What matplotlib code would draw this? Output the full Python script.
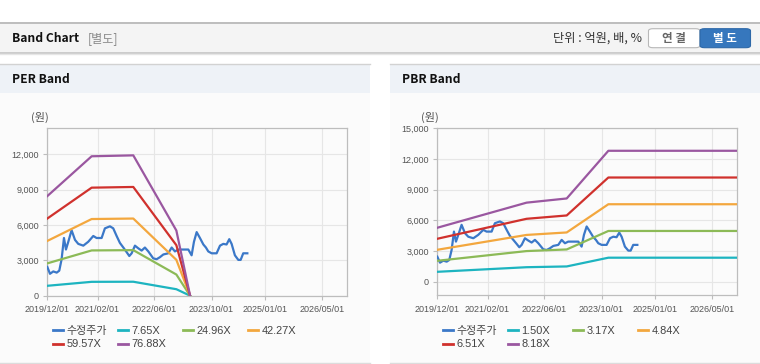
import numpy as np
import pandas as pd
import matplotlib
matplotlib.use("Agg")
import matplotlib.pyplot as plt
from matplotlib.patches import Rectangle, FancyBboxPatch
from matplotlib.lines import Line2D
from matplotlib.ticker import FuncFormatter

plt.rcParams['font.family'] = ['Liberation Sans', 'Noto Sans CJK KR', 'DejaVu Sans']
KR = ['Noto Sans CJK KR', 'DejaVu Sans']

# ---------------- data ----------------
price_dates = ["2019-12-01", "2019-12-24", "2020-01-21", "2020-02-19", "2020-03-12", "2020-04-01",
               "2020-04-21", "2020-05-08", "2020-05-28", "2020-06-25", "2020-07-24", "2020-08-21",
               "2020-10-03", "2020-11-14", "2020-12-27", "2021-01-24", "2021-03-08", "2021-04-05",
               "2021-05-18", "2021-06-15", "2021-07-14", "2021-08-11", "2021-09-09", "2021-10-07",
               "2021-10-30", "2021-11-19", "2021-12-17", "2022-01-15", "2022-02-12", "2022-03-12",
               "2022-04-10", "2022-05-22", "2022-06-20", "2022-07-18", "2022-08-16", "2022-09-27",
               "2022-10-26", "2022-11-23", "2022-12-21", "2023-02-02", "2023-03-17", "2023-04-14",
               "2023-05-04", "2023-05-27", "2023-06-24", "2023-07-23", "2023-08-14", "2023-09-03",
               "2023-10-02", "2023-11-13", "2023-12-12", "2024-01-09", "2024-02-06", "2024-02-29",
               "2024-03-20", "2024-04-17", "2024-05-16", "2024-06-05", "2024-06-27", "2024-08-01"]
price_values = [2450, 1860, 2060, 1960, 2125, 3100, 4900, 3920, 4580, 5560, 4740, 4400,
                4250, 4580, 5070, 4900, 4900, 5720, 5890, 5720, 5070, 4480, 4090, 3700,
                3370, 3600, 4250, 4020, 3830, 4090, 3760, 3170, 3100, 3270, 3500, 3600,
                4090, 3760, 3920, 3920, 3920, 3430, 4580, 5400, 4900, 4350, 4090, 3760,
                3600, 3600, 4250, 4400, 4350, 4800, 4400, 3430, 3040, 3040, 3600, 3600]

# PER band: EPS base at key dates, multiples
eps_dates = ["2019-12-01", "2020-12-13", "2021-12-03", "2022-12-05", "2023-04-01"]
eps_values = [110, 154, 155, 72, 0]
per_multiples = [7.65, 24.96, 42.27, 59.57, 76.88]
per_labels = ["수정주가", "7.65X", "24.96X", "42.27X", "59.57X", "76.88X"]

# PBR band: BPS base at key dates, multiples
bps_dates = ["2019-12-01", "2021-12-31", "2022-12-08", "2023-11-28", "2026-12-01"]
bps_values = [645, 945, 995, 1565, 1565]
pbr_multiples = [1.50, 3.17, 4.84, 6.51, 8.18]
pbr_labels = ["수정주가", "1.50X", "3.17X", "4.84X", "6.51X", "8.18X"]

xtick_dates = ["2019-12-01", "2021-02-01", "2022-06-01", "2023-10-01", "2025-01-01", "2026-05-01"]
xtick_labels = ["2019/12/01", "2021/02/01", "2022/06/01", "2023/10/01", "2025/01/01", "2026/05/01"]
x_range = ["2019-12-01", "2026-12-01"]

colors = ["#3b78c8", "#1db4c0", "#8cba57", "#f3a73e", "#d0312d", "#9a57a0"]

# ---------------- figure ----------------
W, H = 760, 364
fig = plt.figure(figsize=(W / 100, H / 100), dpi=100)
fig.patch.set_facecolor("white")


def fx(x):
    return x / W


def fy(y):
    return 1 - y / H


def rect(x0, y0, x1, y1, fc, ec="none", lw=0, z=0):
    fig.add_artist(Rectangle((fx(x0), fy(y1)), fx(x1) - fx(x0), fy(y0) - fy(y1),
                             transform=fig.transFigure, facecolor=fc, edgecolor=ec,
                             linewidth=lw, zorder=z))


def hline(x0, x1, y, color, lw=1.0, z=1):
    fig.add_artist(Line2D([fx(x0), fx(x1)], [fy(y), fy(y)], transform=fig.transFigure,
                          color=color, linewidth=lw, zorder=z))


# top header band
rect(0, 22.5, 760, 53, "#f4f4f4")
hline(0, 760, 22.8, "#b4b4b4", 1.2)
hline(0, 760, 52.8, "#c4c4c4", 1.2)
hline(0, 760, 54.2, "#e6e6e6", 1.0)
fig.text(fx(11.5), fy(38.5), "Band Chart", fontsize=8.7, fontweight="bold", color="#111",
         family=KR, va="center", ha="left")
fig.text(fx(88), fy(38.5), "[별도]", fontsize=8.7, color="#8a8a8a", family=KR, va="center", ha="left")
fig.text(fx(642), fy(38.5), "단위 : 억원, 배, %", fontsize=8.8, color="#333", family=KR,
         va="center", ha="right")
# buttons
b1 = FancyBboxPatch((fx(648.5), fy(47.7)), fx(700) - fx(648.5), fy(28.7) - fy(47.7),
                    boxstyle="round,pad=0,rounding_size=0.006", transform=fig.transFigure,
                    facecolor="white", edgecolor="#b8b8b8", linewidth=0.8, zorder=2)
fig.add_artist(b1)
b2 = FancyBboxPatch((fx(700), fy(47.7)), fx(750.5) - fx(700), fy(28.7) - fy(47.7),
                    boxstyle="round,pad=0,rounding_size=0.006", transform=fig.transFigure,
                    facecolor="#3677bd", edgecolor="#2d68a8", linewidth=0.8, zorder=2)
fig.add_artist(b2)
fig.text(fx(674), fy(38.5), "연 결", fontsize=8.3, fontweight="bold", color="#666", family=KR,
         va="center", ha="center", zorder=3)
fig.text(fx(725), fy(38.5), "별 도", fontsize=8.3, fontweight="bold", color="white", family=KR,
         va="center", ha="center", zorder=3)

# panels
for (px0, px1, title) in [(0, 370, "PER Band"), (390, 760, "PBR Band")]:
    rect(px0, 64, px1, 93, "#eef2f7")
    rect(px0, 93, px1, 362.5, "#fbfbfb")
    hline(px0, px1, 64.2, "#d2d2d2", 1.0, 2)
    hline(px0, px1, 362.6, "#dcdcdc", 1.0, 2)
    fig.text(fx(px0 + 11.5), fy(79.5), title, fontsize=8.7, fontweight="bold", color="#111",
             family=KR, va="center", ha="left")

xlim = pd.to_datetime(x_range)
xt = pd.to_datetime(xtick_dates)


def style_axes(ax, ylim, yticks):
    ax.set_facecolor("#fbfbfb")
    ax.set_xlim(xlim[0], xlim[1])
    ax.set_ylim(*ylim)
    ax.set_yticks(yticks)
    ax.yaxis.set_major_formatter(FuncFormatter(lambda v, p: f"{int(v):,}"))
    ax.set_xticks(xt)
    ax.set_xticklabels(xtick_labels)
    ax.grid(True, color="#e6e6e6", linewidth=0.8)
    ax.set_axisbelow(True)
    for s in ax.spines.values():
        s.set_color("#bdbdbd")
        s.set_linewidth(0.9)
    ax.tick_params(axis="both", labelsize=6.5, labelcolor="#555", color="#bdbdbd", length=3,
                   width=0.8)
    ax.tick_params(axis="x", pad=4)
    ax.tick_params(axis="y", pad=3)


pdates = pd.to_datetime(price_dates)

# PER axes
ax1 = fig.add_axes([fx(47.3), fy(295.7), fx(300), 167.7 / H])
ax1.plot(pdates, price_values, color=colors[0], lw=1.6, zorder=3)
ed = pd.to_datetime(eps_dates)
for i, m in enumerate(per_multiples):
    ax1.plot(ed, np.array(eps_values) * m, color=colors[i + 1], lw=1.6, zorder=3)
style_axes(ax1, (0, 14240), [0, 3000, 6000, 9000, 12000])

# PBR axes
ax2 = fig.add_axes([fx(437.3), fy(295.0), fx(300), 166.7 / H])
ax2.plot(pdates, price_values, color=colors[0], lw=1.6, zorder=3)
bd = pd.to_datetime(bps_dates)
for i, m in enumerate(pbr_multiples):
    ax2.plot(bd, np.array(bps_values) * m, color=colors[i + 1], lw=1.6, zorder=3)
style_axes(ax2, (-1300, 15000), [0, 3000, 6000, 9000, 12000, 15000])

# unit labels
fig.text(fx(31.5), fy(117.5), "(원)", fontsize=8, color="#555", family=KR, va="center", ha="left")
fig.text(fx(421.5), fy(117.3), "(원)", fontsize=8, color="#555", family=KR, va="center", ha="left")

# legends
col_x = [0, 65, 130, 195]
for base_x, labels in [(52.7, per_labels), (442.7, pbr_labels)]:
    for i, lab in enumerate(labels):
        r, c = divmod(i, 4)
        x0 = base_x + col_x[c]
        y = 330.3 + r * 13.5
        fig.add_artist(Line2D([fx(x0), fx(x0 + 10.5)], [fy(y), fy(y)], transform=fig.transFigure,
                              color=colors[i], linewidth=2.0, zorder=3))
        fig.text(fx(x0 + 13.5), fy(y + 0.5), lab, fontsize=7.9, color="#444",
                 family=['Liberation Sans', 'Noto Sans CJK KR'], va="center", ha="left")

fig.savefig("out.png", dpi=100, facecolor="white")
